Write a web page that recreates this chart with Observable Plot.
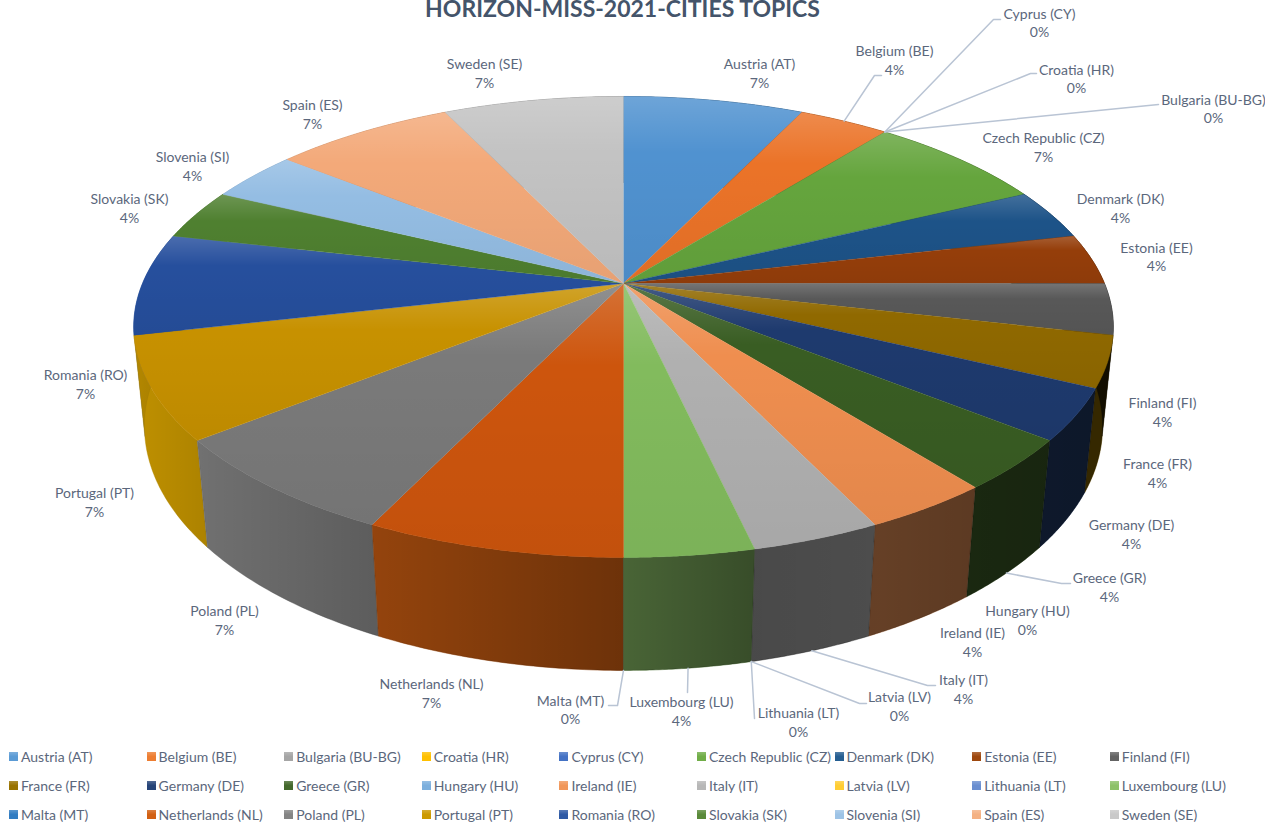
<!DOCTYPE html>
<html>
<head>
<meta charset="utf-8">
<script src="https://cdn.jsdelivr.net/npm/d3@7"></script>
<script src="https://cdn.jsdelivr.net/npm/@observablehq/plot@0.6"></script>
<style>
  html, body { margin: 0; padding: 0; background: #fff; overflow: hidden; }
  body { font-family: Lato, sans-serif; color: #5b677c; width: 1265px; height: 826px; position: relative; }
  #title { position: absolute; left: 0; width: 1245px; top: 0; height: 17px; text-align: center; font-size: 23px; font-weight: 700; color: #44546A; line-height: 16px; white-space: nowrap; z-index: 2; }
  #legend { position: absolute; left: 9px; top: 741.5px; display: grid; grid-template-columns: repeat(9, 137.6px); grid-auto-rows: 29px; font-size: 14px; }
  #legend div { display: flex; align-items: center; white-space: nowrap; }
  #legend i { display: inline-block; width: 9px; height: 9px; margin-right: 3px; flex: none; }
  svg { display: block; }
</style>
</head>
<body>
<div id="title">HORIZON-MISS-2021-CITIES TOPICS</div>
<div id="chart"></div>
<div id="legend"></div>
<script>
const countries = ["Austria (AT)","Belgium (BE)","Bulgaria (BU-BG)","Croatia (HR)","Cyprus (CY)","Czech Republic (CZ)","Denmark (DK)","Estonia (EE)","Finland (FI)","France (FR)","Germany (DE)","Greece (GR)","Hungary (HU)","Ireland (IE)","Italy (IT)","Latvia (LV)","Lithuania (LT)","Luxembourg (LU)","Malta (MT)","Netherlands (NL)","Poland (PL)","Portugal (PT)","Romania (RO)","Slovakia (SK)","Slovenia (SI)","Spain (ES)","Sweden (SE)"];
const topics = [2,1,0,0,0,2,1,1,1,1,1,1,0,1,1,0,0,1,0,2,2,2,2,1,1,2,2];
const colors = ["#5B9BD5","#ED7D31","#A5A5A5","#FFC000","#4472C4","#70AD47","#255E91","#9E480E","#636363","#997300","#264478","#43682B","#7CAFDD","#F1975A","#B7B7B7","#FFCD33","#698ED0","#8CC168","#327DC2","#D26012","#848484","#CC9A00","#2F5AA5","#5A8A39","#9DC3E6","#F4B183","#C9C9C9"];

// Label centres, separate from the values (hand placed in the original chart)
const labelX = [759,894,1213,1076,1039,1043,1120,1156,1162,1157,1131,1109,1027,972,963,899,798,681,570,431,224,94,85,129,192,312,484];
const labelY = [72,59,107.5,77.5,21.5,146,207,255.5,411,472,533,586,619,641,688,705,721,710,708.5,692,619,501,383,207,165,113,72];
// Leader lines: index of country, face the line leaves from, where along the slice, elbow point
const leaders = [
  {i:1,  face:"top", at:0.5, elbow:[874,75],  end:[881,75]},
  {i:4,  face:"top", at:1,   elbow:[993,19],  end:[1000,19]},
  {i:3,  face:"top", at:1,   elbow:[1030,73], end:[1036,73]},
  {i:2,  face:"top", at:1,   elbow:[1158,104],end:[1158,104]},
  {i:11, face:"bottom", at:0.5, elbow:[1061,583], end:[1070,583]},
  {i:14, face:"bottom", at:0.5, elbow:[927,685], end:[935,685]},
  {i:15, face:"bottom", at:1, elbow:[859,703], end:[866,703]},
  {i:16, face:"bottom", at:1, elbow:[754,718], end:[754,718]},
  {i:17, face:"bottom", at:0.5, elbow:[687,692], end:[687,692]},
  {i:18, face:"bottom", at:1, elbow:[617,705], end:[608,705]}
];

// Perspective camera for the tilted disc
const cam = {cx:623, cy:283, A:481, B:222.3, k:0.1887, m:0.0217, H:100};
function project(angle, r, depth) {
  const u = r * Math.sin(angle), v = -r * Math.cos(angle);
  const w = 1 - cam.k * v + cam.m * depth;
  return {x: cam.cx + cam.A * u / w, y: cam.cy + (cam.B * v + cam.H * depth) / w};
}
// The lit top face reads a little deeper than the legend swatches
function deepen(c) {
  const {r, g, b} = d3.rgb(c);
  const f = v => 255 * Math.pow(v / 255, 1.12);
  return d3.rgb(f(r), f(g), f(b)).formatHex();
}

const total = d3.sum(topics);
let running = 0;
const slices = countries.map((name, i) => {
  const a0 = running / total * 2 * Math.PI;
  running += topics[i];
  const a1 = running / total * 2 * Math.PI;
  return {name, color: colors[i], value: topics[i], a0, a1, i};
});
const arc = (a0, a1) => d3.range(0, 41).map(j => a0 + (a1 - a0) * j / 40);

const visible = slices.filter(s => s.value > 0);
const topFaces = visible.flatMap(s => {
  const color = deepen(s.color);
  return [
    {...project(0, 0, 0), name: s.name, color},
    ...arc(s.a0, s.a1).map(a => ({...project(a, 1, 0), name: s.name, color}))
  ];
});
const frontOrder = visible.slice().sort((p, q) =>
  Math.cos((q.a0 + q.a1) / 2) - Math.cos((p.a0 + p.a1) / 2));
const wallFaces = frontOrder.flatMap(s => [
  ...arc(s.a0, s.a1).map(a => ({...project(a, 1, 0), name: s.name, color: s.color})),
  ...arc(s.a0, s.a1).reverse().map(a => ({...project(a, 1, 1), name: s.name, color: s.color}))
]);
const leaderPoints = leaders.flatMap(l => {
  const s = slices[l.i];
  const start = project(s.a0 + (s.a1 - s.a0) * l.at, 1, l.face === "top" ? 0 : 1);
  return [
    {...start, id: l.i},
    {x: l.elbow[0], y: l.elbow[1], id: l.i},
    {x: l.end[0], y: l.end[1], id: l.i}
  ];
});
const pct = d3.format(".0%");
const labels = slices.map((s, i) => ({
  x: labelX[i], y: labelY[i], text: `${s.name}\n${pct(s.value / total)}`
}));

function gradients() {
  const defs = d3.create("svg:defs");
  const top = defs.append("linearGradient").attr("id", "topShade")
    .attr("x1", 0).attr("x2", 0).attr("y1", 0).attr("y2", 1);
  [[0, "#fff", 0.17], [0.3, "#fff", 0], [0.31, "#000", 0], [1, "#000", 0.05]].forEach(([o, c, a]) =>
    top.append("stop").attr("offset", o).attr("stop-color", c).attr("stop-opacity", a));
  const wall = defs.append("linearGradient").attr("id", "wallShade")
    .attr("gradientUnits", "userSpaceOnUse")
    .attr("x1", cam.cx - cam.A * 1.02).attr("x2", cam.cx + cam.A * 1.02).attr("y1", 0).attr("y2", 0);
  [[0, 0.06], [0.08, 0.16], [0.25, 0.3], [0.5, 0.48], [0.63, 0.6], [0.76, 0.58], [0.89, 0.63], [1, 0.66]].forEach(([o, a]) =>
    wall.append("stop").attr("offset", o).attr("stop-color", "#000").attr("stop-opacity", a));
  return defs.node();
}

const chart = Plot.plot({
  width: 1265,
  height: 740,
  margin: 0,
  x: {axis: null, domain: [0, 1265], range: [0, 1265]},
  y: {axis: null, domain: [0, 740], range: [0, 740]},
  color: {type: "identity"},
  marks: [
    gradients,
    Plot.line(wallFaces, {x: "x", y: "y", z: "name", fill: "color", stroke: "color", strokeWidth: 0.4}),
    Plot.line(wallFaces, {x: "x", y: "y", z: "name", fill: "url(#wallShade)", stroke: "url(#wallShade)", strokeWidth: 0.4}),
    Plot.line(topFaces, {x: "x", y: "y", z: "name", fill: "color", stroke: "color", strokeWidth: 0.4}),
    Plot.line(topFaces, {x: "x", y: "y", z: "name", fill: "url(#topShade)", stroke: "none"}),
    Plot.line(leaderPoints, {x: "x", y: "y", z: "id", stroke: "#B9C4D4", strokeWidth: 1.5}),
    Plot.text(labels, {x: "x", y: "y", text: "text", fill: "#5b677c", fontSize: 14, lineHeight: 1.34, fontFamily: "Lato, sans-serif"})
  ]
});
document.getElementById("chart").append(chart);

const legend = d3.select("#legend");
slices.forEach(s => {
  const item = legend.append("div");
  item.append("i").style("background", `linear-gradient(rgba(255,255,255,.2), rgba(255,255,255,0) 50%), ${s.color}`);
  item.append("span").text(s.name);
});
</script>
</body>
</html>
